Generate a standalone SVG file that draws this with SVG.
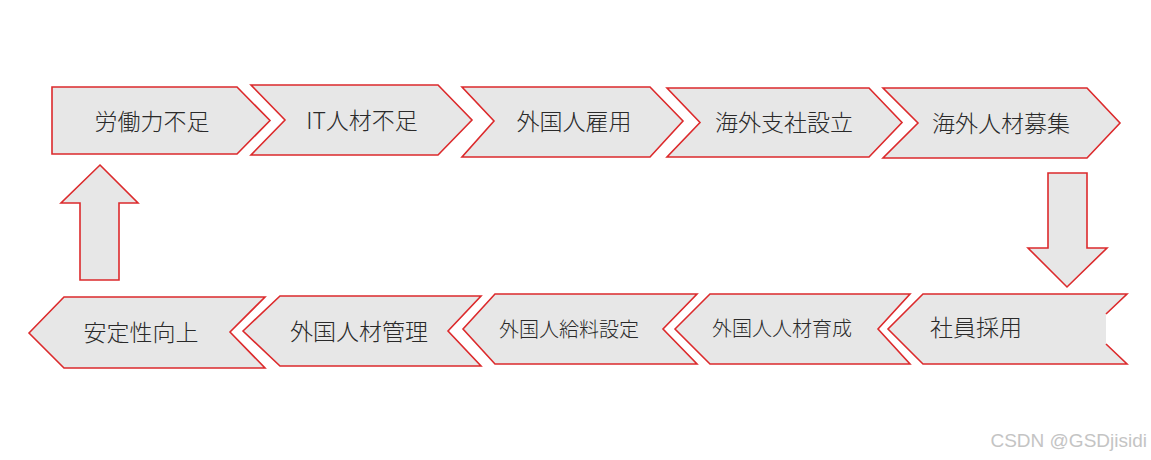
<svg xmlns="http://www.w3.org/2000/svg" width="1151" height="460" viewBox="0 0 1151 460">
<style>
.shape{fill:#e7e7e7;stroke:#dc2a2c;stroke-width:1.6;stroke-linejoin:miter}
.fillonly{fill:#e7e7e7;stroke:none}
.edge{fill:none;stroke:#dc2a2c;stroke-width:1.6}
.lbl{font-family:"Noto Sans CJK JP","Noto Sans",sans-serif;font-size:23px;font-weight:300;fill:#2a2a2a;text-anchor:middle;dominant-baseline:central}
.sm{font-size:20px}
.wm{font-family:"Liberation Sans",Arial,sans-serif;font-size:19px;fill:#c4c4c4;text-anchor:end}
</style>
<rect width="1151" height="460" fill="#fff"/>
<g id="n1"><polygon class="shape" points="52,87 237,87 270,120.5 237,154 52,154"/><text class="lbl" x="152" y="120">労働力不足</text></g>
<g id="n2"><polygon class="shape" points="251,85 438,85 472,120 438,155 251,155 285,120"/><text class="lbl" x="362" y="119">IT人材不足</text></g>
<g id="n3"><polygon class="shape" points="462,87 650,87 683,121 650,157 462,157 494,121"/><text class="lbl" x="574" y="120">外国人雇用</text></g>
<g id="n4"><polygon class="shape" points="667,88 869,88 902,122.5 869,157 667,157 700,122.5"/><text class="lbl" x="784" y="121">海外支社設立</text></g>
<g id="n5"><polygon class="shape" points="883,88 1087,88 1120,123 1087,158 883,158 918,123"/><text class="lbl" x="1001" y="122">海外人材募集</text></g>
<g id="n6"><polygon class="fillonly" points="888,329 923,294 1127,294 1106,314 1106,344 1127,364 923,364"/><path class="edge" d="M1106,344 L1127,364 L923,364 L888,329 L923,294 L1127,294 L1106,314"/><text class="lbl" x="976" y="326">社員採用</text></g>
<g id="n7"><polygon class="shape" points="675,329 710,294 910,294 878,329 910,364 710,364"/><text class="lbl sm" x="782" y="327">外国人人材育成</text></g>
<g id="n8"><polygon class="shape" points="463,329 495,294 697,294 663,329 697,364 495,364"/><text class="lbl sm" x="569" y="328">外国人給料設定</text></g>
<g id="n9"><polygon class="shape" points="243,331 280,296 481,296 448,331 481,366 280,366"/><text class="lbl" x="359" y="330">外国人材管理</text></g>
<g id="n10"><polygon class="shape" points="29,333 64,297 265,297 230,332 265,368 64,368"/><text class="lbl" x="141" y="331">安定性向上</text></g>
<g id="connectors">
<polygon class="shape" points="1048,173 1087,173 1087,248 1107,248 1067,287 1028,248 1048,248"/>
<polygon class="shape" points="100,165 138,203 119,203 119,280 80,280 80,203 61,203"/>
</g>
<text class="wm" x="1147" y="447">CSDN @GSDjisidi</text>
</svg>
